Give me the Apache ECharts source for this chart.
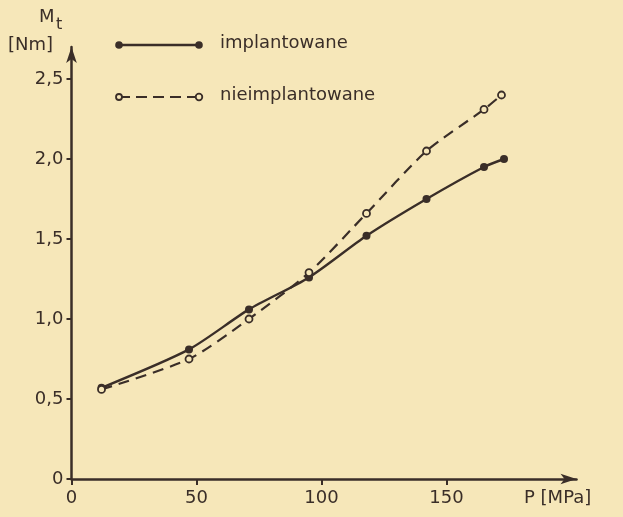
<!DOCTYPE html>
<html>
<head>
<meta charset="utf-8">
<script src="https://cdn.jsdelivr.net/npm/echarts@6/dist/echarts.min.js"></script>
<style>
	html, body { margin: 0; padding: 0; background: #f6e7b9; }
	#chart { width: 623px; height: 517px; }
</style>
</head>
<body>
<div id="chart"></div>
<script>
// P [MPa] / M_t [Nm]
var implantowane = [[12, 0.57], [47, 0.81], [71, 1.06], [95, 1.26], [118, 1.52], [142, 1.75], [165, 1.95], [173, 2.0]];
var nieimplantowane = [[12, 0.56], [47, 0.75], [71, 1.0], [95, 1.29], [118, 1.66], [142, 2.05], [165, 2.31], [172, 2.4]];
var xTicks = [0, 50, 100, 150];
var yTicks = [0, 0.5, 1.0, 1.5, 2.0, 2.5];

var ink = '#3a2e28';
var bg = '#f6e7b9';
var font = 'DejaVu Sans';

var myChart = echarts.init(document.getElementById('chart'));
var option = {
	backgroundColor: bg,
	animation: false,
	grid: { left: 71.5, right: 46.5, top: 47, bottom: 38 },
	xAxis: {
		type: 'value',
		min: 0,
		max: 202,
		axisLine: { lineStyle: { color: ink, width: 2.5 }, symbol: ['none', 'arrow'], symbolSize: [8, 16] },
		axisTick: { show: true, length: 6, customValues: xTicks, lineStyle: { color: ink, width: 2 } },
		axisLabel: {
			color: ink, fontFamily: font, fontSize: 18, margin: 10,
			customValues: xTicks
		},
		splitLine: { show: false }
	},
	yAxis: {
		type: 'value',
		min: 0,
		max: 2.7,
		axisLine: { show: true, lineStyle: { color: ink, width: 2.5 }, symbol: ['none', 'arrow'], symbolSize: [8, 16] },
		axisTick: { show: true, length: 5, customValues: yTicks, lineStyle: { color: ink, width: 2 } },
		axisLabel: {
			color: ink, fontFamily: font, fontSize: 18, margin: 8,
			customValues: yTicks,
			formatter: function (v) {
				return v === 0 ? '0' : v.toFixed(1).replace('.', ',');
			}
		},
		splitLine: { show: false }
	},
	graphic: [
		{ type: 'text', left: 39, top: 8, style: { text: 'M', fill: ink, font: '18px ' + font } },
		{ type: 'text', left: 56, top: 17, style: { text: 't', fill: ink, font: '16px ' + font } },
		{ type: 'text', left: 8, top: 36, style: { text: '[Nm]', fill: ink, font: '18px ' + font } },
		{ type: 'text', left: 524, top: 489, style: { text: 'P [MPa]', fill: ink, font: '18px ' + font } },
		// legend
		{ type: 'line', shape: { x1: 119, y1: 45, x2: 199, y2: 45 }, style: { stroke: ink, lineWidth: 2.4 } },
		{ type: 'circle', shape: { cx: 119, cy: 45, r: 3.8 }, style: { fill: ink } },
		{ type: 'circle', shape: { cx: 199, cy: 45, r: 3.8 }, style: { fill: ink } },
		{ type: 'text', left: 220, top: 34, style: { text: 'implantowane', fill: ink, font: '18px ' + font } },
		{ type: 'line', shape: { x1: 119, y1: 97, x2: 199, y2: 97 }, style: { stroke: ink, lineWidth: 2.2, lineDash: [11, 6] } },
		{ type: 'circle', shape: { cx: 119, cy: 97, r: 3 }, style: { fill: bg, stroke: ink, lineWidth: 1.8 } },
		{ type: 'circle', shape: { cx: 199, cy: 97, r: 3.3 }, style: { fill: bg, stroke: ink, lineWidth: 1.8 } },
		{ type: 'text', left: 220, top: 86, style: { text: 'nieimplantowane', fill: ink, font: '18px ' + font } }
	],
	series: [
		{
			name: 'implantowane',
			type: 'line',
			smooth: 0.25,
			data: implantowane,
			symbol: 'circle',
			symbolSize: 8,
			itemStyle: { color: ink },
			lineStyle: { color: ink, width: 2.4 }
		},
		{
			name: 'nieimplantowane',
			type: 'line',
			smooth: 0.25,
			data: nieimplantowane,
			symbol: 'circle',
			symbolSize: 7,
			itemStyle: { color: bg, borderColor: ink, borderWidth: 1.8 },
			lineStyle: { color: ink, width: 2.2, type: [11, 7] },
			z: 3
		}
	]
};
myChart.setOption(option);
</script>
</body>
</html>
